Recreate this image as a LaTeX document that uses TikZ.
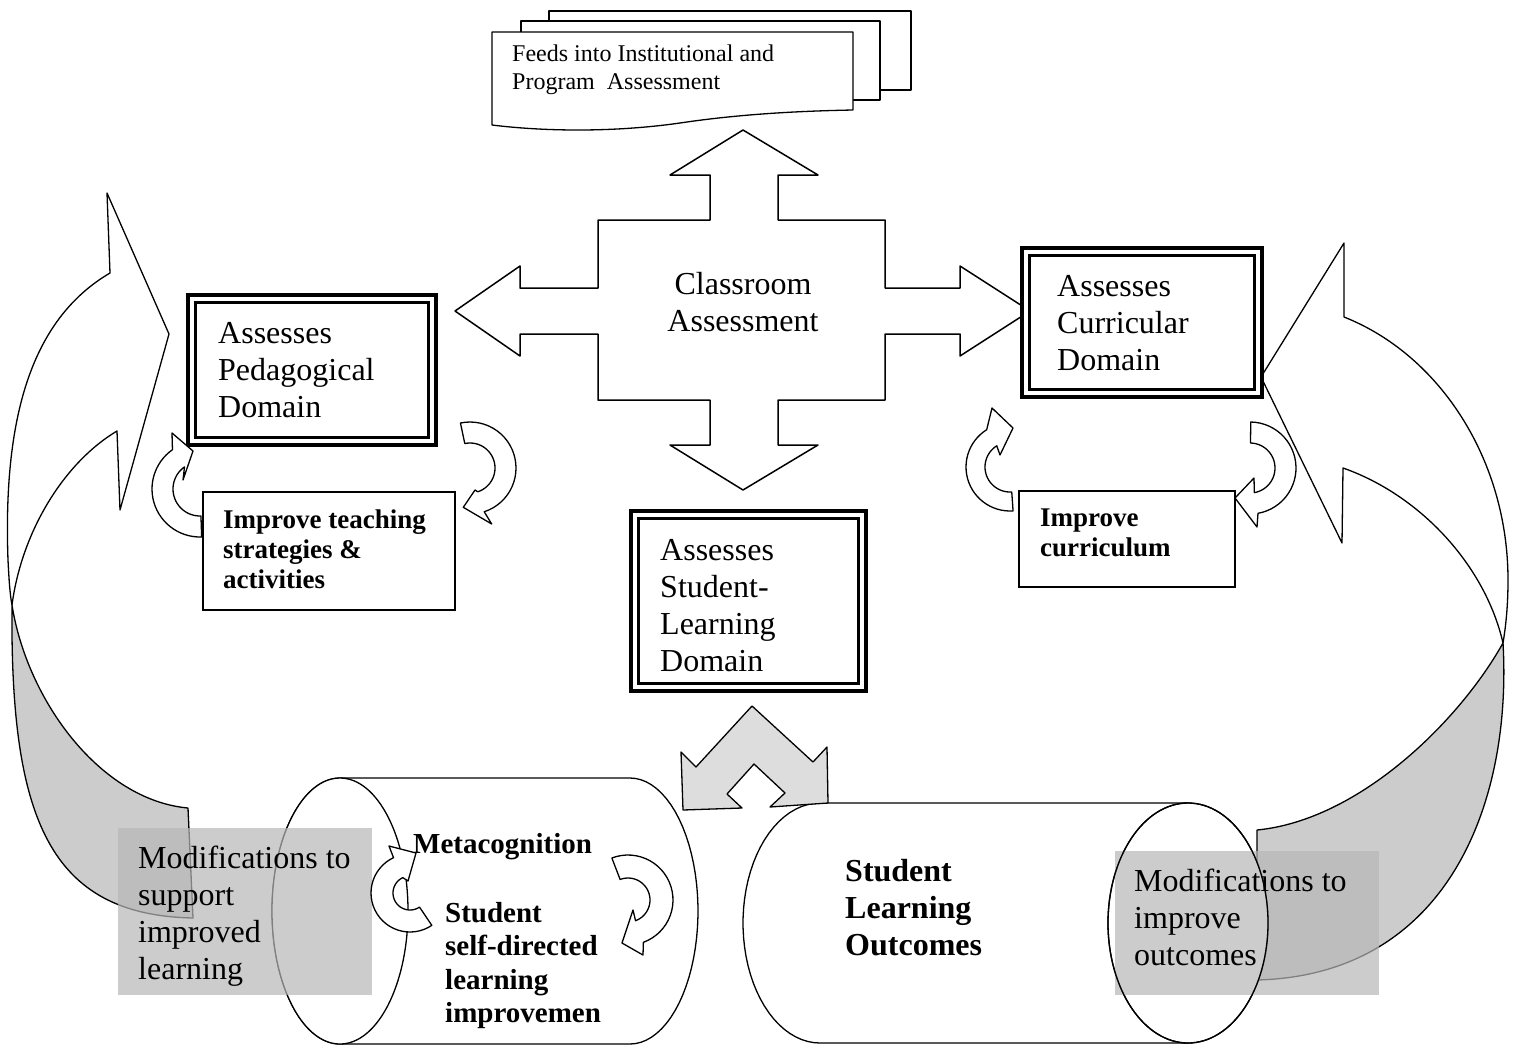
\documentclass[tikz,border=0pt]{standalone}
\usepackage{fontspec}
\setmainfont{Liberation Serif}
\definecolor{backgray}{RGB}{204,204,204}
\definecolor{chev}{RGB}{221,221,221}
\definecolor{ovl}{RGB}{183,183,183}
\newcommand{\circarrow}[9]{%
 \draw[wf] plot[domain=#5:#6,samples=30] ({#1+#3*cos(\x)},{#2+#3*sin(\x)}) -- #7 -- #8 -- #9 -- plot[domain=#6:#5,samples=30] ({#1+#4*cos(\x)},{#2+#4*sin(\x)}) -- cycle;}
\newcommand{\dblbox}[4]{%
 \draw[line width=3.5pt,fill=white] (#1,#2) rectangle (#3,#4);
 \draw[line width=2.8pt] ({#1+7.5},{#2+7.5}) rectangle ({#3-7.5},{#4-7.5});}
\begin{document}
\begin{tikzpicture}[x=1pt,y=-1pt,
  ln/.style={draw=black,line width=1.3pt,line join=round},
  wf/.style={ln,fill=white},
  tL/.style={font=\fontsize{32}{37}\selectfont,align=left,inner sep=0pt,anchor=north west},
  tLB/.style={font=\fontsize{32}{37}\selectfont\bfseries,align=left,inner sep=0pt,anchor=north west},
  tM/.style={font=\fontsize{29}{33.5}\selectfont\bfseries,align=left,inner sep=0pt,anchor=north west},
  tS/.style={font=\fontsize{27}{30}\selectfont\bfseries,align=left,inner sep=0pt,anchor=north west},
  tD/.style={font=\fontsize{24}{27.5}\selectfont,align=left,inner sep=0pt,anchor=north west}]
\useasboundingbox (0,0) rectangle (1515,1045);
\fill[white] (0,0) rectangle (1515,1045);

% big left curved arrow
\draw[ln,fill=backgray] (12,605) .. controls (27,700) and (100,800) .. (188,808) -- (193,918)
  .. controls (50,915) and (10,820) .. (12,605) -- cycle;
\draw[wf] (169,334) -- (107,193) -- (110,273) .. controls (30,320) and (3,420) .. (8,560)
  .. controls (9,580) and (10,595) .. (12,605) .. controls (22,530) and (65,462) .. (117,431)
  -- (120,510) -- cycle;

% big right curved arrow
\draw[ln,fill=backgray] (1503,643) .. controls (1460,720) and (1360,820) .. (1257,830) -- (1257,980)
  .. controls (1450,975) and (1512,800) .. (1503,643) -- cycle;
\draw[wf] (1261,377) -- (1344,243) -- (1344,317) .. controls (1440,355) and (1508,460) .. (1508,580)
  .. controls (1508,605) and (1506,625) .. (1503,643) .. controls (1485,565) and (1420,495) .. (1343,468)
  -- (1342,543) -- cycle;

% left cylinder
\draw[wf] (340,778) -- (630,778) -- plot[domain=-90:90,samples=40] ({630+68*cos(\x)},{911+133*sin(\x)})
  -- (340,1044) -- plot[domain=90:270,samples=40] ({340+68*cos(\x)},{911+133*sin(\x)}) -- cycle;
\draw[wf] (340,911) ellipse [x radius=68pt, y radius=133pt];

% right cylinder
\draw[wf] (820,803) -- (1188,803) -- (1188,1043) -- (820,1043)
  -- plot[domain=90:270,samples=40] ({820+77*cos(\x)},{923+120*sin(\x)}) -- cycle;
\draw[wf] (1188,923) ellipse [x radius=80pt, y radius=120pt];

% chevron double arrow
\draw[ln,fill=chev] (752,706) -- (696,767) -- (681,752) -- (683,810) -- (742,808) -- (727,794)
  -- (754,764) -- (785,793) -- (770,807) -- (828,803) -- (827,747) -- (813,762) -- cycle;

% translucent boxes
\fill[ovl,fill opacity=0.7] (118,828) rectangle (372,995);
\fill[ovl,fill opacity=0.7] (1115,851) rectangle (1379,995);
% right cylinder face outline shows above its box
\draw[ln] (1188,923) ellipse [x radius=80pt, y radius=120pt];

% document stack
\draw[wf] (549,11) rectangle (911,90);
\draw[wf] (521,21) rectangle (880,100);
\draw[wf] (492,32) -- (853,32) -- (853,110) .. controls (800,111) and (740,114) .. (680,123)
  .. controls (610,133) and (540,131) .. (492,125) -- cycle;

% cross arrow
\draw[ln,line width=1.5pt,fill=white] (743,130) -- (818,175) -- (778,175) -- (778,220) -- (885,220) -- (885,288)
  -- (960,288) -- (960,266) -- (1030,311) -- (960,356) -- (960,334) -- (885,334) -- (885,400)
  -- (778,400) -- (778,445) -- (818,445) -- (743,490) -- (670,445) -- (710,445) -- (710,400)
  -- (598,400) -- (598,334) -- (520,334) -- (520,356) -- (455,311) -- (520,266) -- (520,288)
  -- (598,288) -- (598,220) -- (710,220) -- (710,175) -- (670,175) -- cycle;

% double boxes
\dblbox{188}{295}{436}{445}
\dblbox{1022}{248}{1262}{397}
\dblbox{631}{511}{866}{691}

% single boxes
\draw[line width=2pt,fill=white] (203,492) rectangle (455,610);
\draw[line width=2pt,fill=white] (1019,491) rectangle (1235,587);

% small circular arrows
\circarrow{200}{489}{48}{27}{88}{235}{(172,433)}{(193,451)}{(183,480)}
\circarrow{470}{468}{46}{25}{258}{432}{(491.7,524)}{(463.3,507.3)}{(475,490)}
\circarrow{1010}{467}{44}{25}{86}{238}{(992,408)}{(1013,428)}{(1000,455)}
\circarrow{1250}{468}{46}{25}{271}{440}{(1257,527)}{(1235,498)}{(1254,478)}
\circarrow{410}{893}{39}{17}{56}{245}{(389,846)}{(416,853)}{(408,881)}
\circarrow{628}{900}{45}{22}{249}{430}{(643,955)}{(622,943)}{(633,910)}

% texts
\node[tD] (doc) at (512,45) {Feeds into Institutional and\\Program\ \ Assessment};
\node[font=\fontsize{32}{37}\selectfont,align=center,inner sep=0pt,anchor=north] (cls) at (743,272) {Classroom\\Assessment};
\node[tL] (ped) at (218,322) {Assesses\\Pedagogical\\Domain};
\node[tL] (cur) at (1057,275) {Assesses\\Curricular\\Domain};
\node[tL] (stu) at (660,539) {Assesses\\Student-\\Learning\\Domain};
\node[tS] (itp) at (223,510) {Improve teaching\\strategies \&\\activities};
\node[tS] (icu) at (1040,509) {Improve\\curriculum};
\node[tM] (meta) at (413,833) {Metacognition};
\node[tM] (sdl) at (445,902) {Student\\self-directed\\learning\\improvemen};
\node[tLB] (slo) at (845,859) {Student\\Learning\\Outcomes};
\node[tL] (modl) at (138,846) {Modifications to\\support\\improved\\learning};
\node[tL] (modr) at (1134,869) {Modifications to\\improve\\outcomes};
\end{tikzpicture}
\end{document}
